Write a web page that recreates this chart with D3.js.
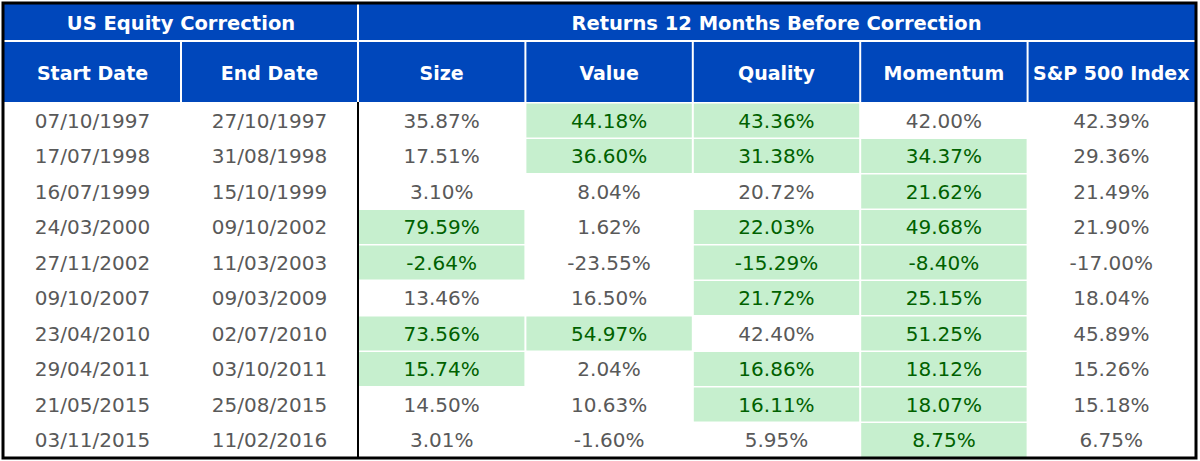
<!DOCTYPE html>
<html>
<head>
<meta charset="utf-8">
<script src="https://cdn.jsdelivr.net/npm/d3@7"></script>
<style>
  body { margin: 0; background: #fff; }
  svg { display: block; }
</style>
</head>
<body>
<div id="table"></div>
<script>
// table contents
var groupTitles = ["US Equity Correction", "Returns 12 Months Before Correction"];
var dateHeaders = ["Start Date", "End Date"];
var factorHeaders = ["Size", "Value", "Quality", "Momentum", "S&P 500 Index"];

var startDates = ["07/10/1997", "17/07/1998", "16/07/1999", "24/03/2000", "27/11/2002",
	"09/10/2007", "23/04/2010", "29/04/2011", "21/05/2015", "03/11/2015"];
var endDates = ["27/10/1997", "31/08/1998", "15/10/1999", "09/10/2002", "11/03/2003",
	"09/03/2009", "02/07/2010", "03/10/2011", "25/08/2015", "11/02/2016"];

var size = [35.87, 17.51, 3.10, 79.59, -2.64, 13.46, 73.56, 15.74, 14.50, 3.01];
var value = [44.18, 36.60, 8.04, 1.62, -23.55, 16.50, 54.97, 2.04, 10.63, -1.60];
var quality = [43.36, 31.38, 20.72, 22.03, -15.29, 21.72, 42.40, 16.86, 16.11, 5.95];
var momentum = [42.00, 34.37, 21.62, 49.68, -8.40, 25.15, 51.25, 18.12, 18.07, 8.75];
var sp500 = [42.39, 29.36, 21.49, 21.90, -17.00, 18.04, 45.89, 15.26, 15.18, 6.75];

var factorSeries = [size, value, quality, momentum, sp500];

var width = 1200;
var height = 461;
var x0 = 4, x1 = 1195;
var y0 = 4, y1 = 457;
var splitX = 358;
var headRow1 = 41, headRow2 = 102;

var blue = "#0047bb";
var greenFill = "#c6efce";
var greenText = "#006100";
var greyText = "#595959";

var svg = d3.select("#table")
	.append("svg")
	.attr("width", width)
	.attr("height", height);

var rowIdx = d3.range(startDates.length);

var yScale = d3.scaleBand()
	.domain(rowIdx)
	.range([headRow2, y1]);

var xDate = d3.scaleBand()
	.domain(dateHeaders)
	.range([x0, splitX]);

var xFactor = d3.scaleBand()
	.domain(factorHeaders)
	.range([splitX, x1]);

// header background
svg.append("rect")
	.attr("x", x0)
	.attr("y", y0)
	.attr("width", x1 - x0)
	.attr("height", headRow2 - y0)
	.attr("fill", blue);

// green cells: factor beat the index
var cells = [];
factorSeries.forEach(function(series, c){
	series.forEach(function(v, r){
		cells.push({col: factorHeaders[c], row: r, v: v, good: c < 4 && v > sp500[r]});
	});
});

svg.selectAll("rect.good")
	.data(cells.filter(function(d){ return d.good; }))
	.enter()
	.append("rect")
	.attr("class", "good")
	.attr("x", function(d){ return xFactor(d.col) + 1; })
	.attr("y", function(d){ return yScale(d.row) + 1.5; })
	.attr("width", xFactor.bandwidth() - 2)
	.attr("height", yScale.bandwidth() - 1.5)
	.attr("fill", greenFill);

// white lines in the header
var white = svg.append("g")
	.attr("stroke", "#fff")
	.attr("stroke-width", 2);

white.append("line")
	.attr("x1", x0).attr("x2", x1)
	.attr("y1", headRow1).attr("y2", headRow1);

white.append("line")
	.attr("x1", splitX).attr("x2", splitX)
	.attr("y1", y0).attr("y2", headRow2);

white.selectAll("line.col")
	.data(dateHeaders.slice(1).map(xDate).concat(factorHeaders.slice(1).map(xFactor)))
	.enter()
	.append("line")
	.attr("class", "col")
	.attr("x1", function(d){ return d; })
	.attr("x2", function(d){ return d; })
	.attr("y1", headRow1)
	.attr("y2", headRow2);

// header text
var head = svg.append("g")
	.attr("text-anchor", "middle")
	.attr("dominant-baseline", "central")
	.attr("font-family", "'DejaVu Sans', sans-serif")
	.attr("font-weight", "bold")
	.attr("fill", "#fff");

head.append("text")
	.attr("x", (x0 + splitX) / 2)
	.attr("y", (y0 + headRow1) / 2 + 1)
	.attr("font-size", 19.5)
	.text(groupTitles[0]);

head.append("text")
	.attr("x", (splitX + x1) / 2)
	.attr("y", (y0 + headRow1) / 2 + 1)
	.attr("font-size", 19.5)
	.text(groupTitles[1]);

head.selectAll("text.dh")
	.data(dateHeaders)
	.enter()
	.append("text")
	.attr("class", "dh")
	.attr("x", function(d){ return xDate(d) + xDate.bandwidth() / 2; })
	.attr("y", (headRow1 + headRow2) / 2 + 1)
	.attr("font-size", 19)
	.text(function(d){ return d; });

head.selectAll("text.fh")
	.data(factorHeaders)
	.enter()
	.append("text")
	.attr("class", "fh")
	.attr("x", function(d){ return xFactor(d) + xFactor.bandwidth() / 2; })
	.attr("y", (headRow1 + headRow2) / 2 + 1)
	.attr("font-size", 19)
	.text(function(d){ return d; });

// body text
var body = svg.append("g")
	.attr("font-family", "'DejaVu Sans', sans-serif")
	.attr("font-size", 20)
	.attr("text-anchor", "middle")
	.attr("dominant-baseline", "central");

[startDates, endDates].forEach(function(col, c){
	body.selectAll("text.d" + c)
		.data(col)
		.enter()
		.append("text")
		.attr("class", "d" + c)
		.attr("x", xDate(dateHeaders[c]) + xDate.bandwidth() / 2)
		.attr("y", function(d, i){ return yScale(i) + yScale.bandwidth() / 2 + 1; })
		.attr("fill", greyText)
		.text(function(d){ return d; });
});

body.selectAll("text.v")
	.data(cells)
	.enter()
	.append("text")
	.attr("class", "v")
	.attr("x", function(d){ return xFactor(d.col) + xFactor.bandwidth() / 2; })
	.attr("y", function(d){ return yScale(d.row) + yScale.bandwidth() / 2 + 1; })
	.attr("fill", function(d){ return d.good ? greenText : greyText; })
	.text(function(d){ return d.v.toFixed(2) + "%"; });

// black borders
svg.append("line")
	.attr("x1", splitX).attr("x2", splitX)
	.attr("y1", headRow2).attr("y2", y1)
	.attr("stroke", "#000")
	.attr("stroke-width", 2);

svg.append("rect")
	.attr("x", x0 - 1)
	.attr("y", y0 - 1)
	.attr("width", x1 - x0 + 2)
	.attr("height", y1 - y0 + 2)
	.attr("fill", "none")
	.attr("stroke", "#000")
	.attr("stroke-width", 3);
</script>
</body>
</html>
